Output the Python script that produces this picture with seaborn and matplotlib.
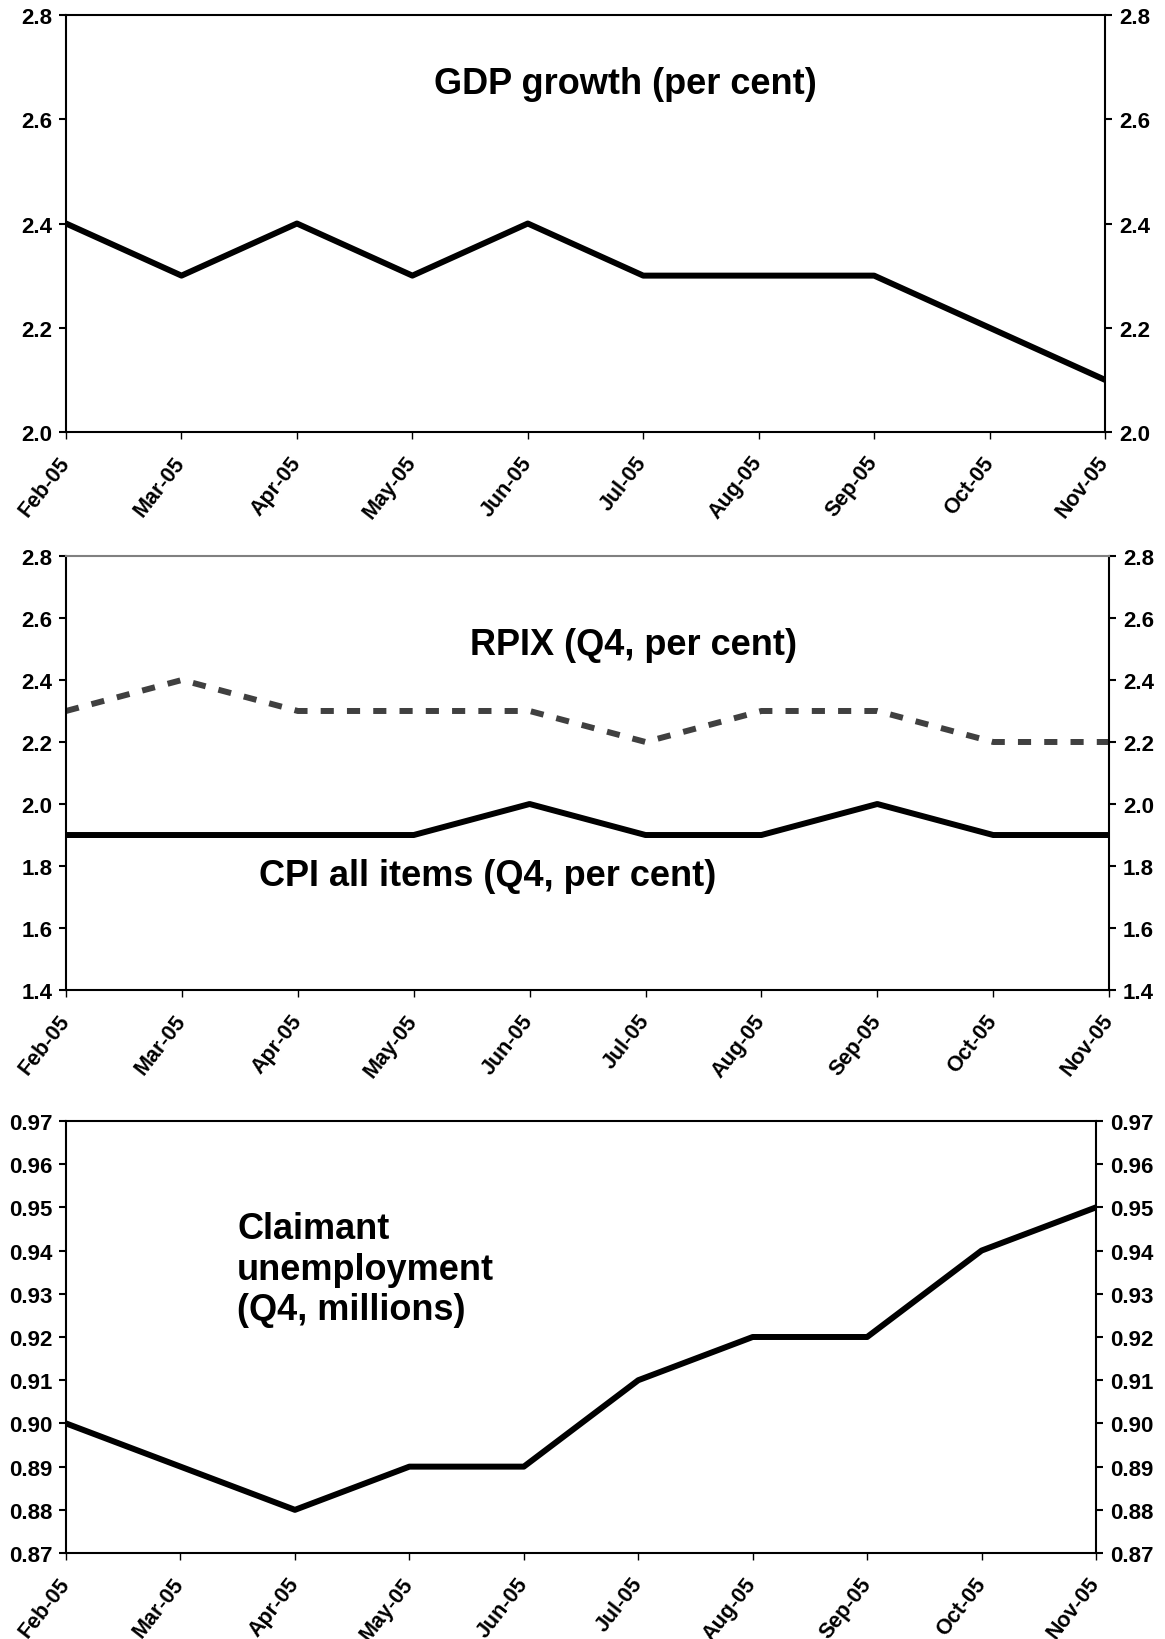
# графики: рост ВВП, инфляция, безработица (прогнозы по месяцам)
import pandas as pd
import numpy as np
import matplotlib.pyplot as plt
import seaborn as sns

# данные
months = ['Feb-05', 'Mar-05', 'Apr-05', 'May-05', 'Jun-05',
          'Jul-05', 'Aug-05', 'Sep-05', 'Oct-05', 'Nov-05']
gdp = [2.4, 2.3, 2.4, 2.3, 2.4, 2.3, 2.3, 2.3, 2.2, 2.1]
rpix = [2.3, 2.4, 2.3, 2.3, 2.3, 2.2, 2.3, 2.3, 2.2, 2.2]
cpi = [1.9, 1.9, 1.9, 1.9, 2.0, 1.9, 1.9, 2.0, 1.9, 1.9]
claimant = [0.90, 0.89, 0.88, 0.89, 0.89, 0.91, 0.92, 0.92, 0.94, 0.95]

df = pd.DataFrame({'month': months, 'gdp': gdp, 'rpix': rpix,
                   'cpi': cpi, 'claimant': claimant})
df['pos'] = np.arange(len(df))

sns.set_style('white')
plt.rcParams['font.family'] = ['Liberation Sans', 'DejaVu Sans']
plt.rcParams['font.weight'] = 'bold'
plt.rcParams['text.color'] = 'black'
plt.rcParams['xtick.color'] = 'black'
plt.rcParams['ytick.color'] = 'black'

fig = plt.figure(figsize=(11.65, 16.4), dpi=100)
ax1 = fig.add_axes([0.0567, 0.736, 0.8918, 0.2542])
ax2 = fig.add_axes([0.0567, 0.3957, 0.8953, 0.2647])
ax3 = fig.add_axes([0.0567, 0.0524, 0.8841, 0.2635])

lw = 4.3

sns.lineplot(data=df, x='pos', y='gdp', ax=ax1, color='black', linewidth=lw)
sns.lineplot(data=df, x='pos', y='rpix', ax=ax2, color='#404040', linewidth=lw,
             dashes=False)
ax2.lines[-1].set_dashes((2.2, 2.2))
sns.lineplot(data=df, x='pos', y='cpi', ax=ax2, color='black', linewidth=lw)
sns.lineplot(data=df, x='pos', y='claimant', ax=ax3, color='black', linewidth=lw)


def style_axis(ax, ylim, step, fmt):
    ax.set_xlim(0, len(months) - 1)
    ax.set_ylim(*ylim)
    ax.set_yticks(np.arange(ylim[0], ylim[1] + step / 2, step))
    ax.yaxis.set_major_formatter(plt.FormatStrFormatter(fmt))
    ax.set_xticks(df['pos'])
    ax.set_xticklabels(months, rotation=52, ha='right', va='center',
                       rotation_mode='anchor')
    ax.set_xlabel('')
    ax.set_ylabel('')
    for s in ax.spines.values():
        s.set_visible(True)
        s.set_linewidth(1.5)
        s.set_color('black')
    ax.tick_params(axis='y', direction='out', length=5, width=1.5,
                   left=True, right=True, labelleft=True, labelright=True,
                   labelsize=16, pad=5)
    ax.tick_params(axis='x', direction='out', length=5, width=1,
                   bottom=True, labelsize=15.5, pad=14)
    for lab in ax.get_xticklabels() + ax.get_yticklabels():
        lab.set_fontweight('bold')


style_axis(ax1, (2.0, 2.8), 0.2, '%.1f')
style_axis(ax2, (1.4, 2.8), 0.2, '%.1f')
style_axis(ax3, (0.87, 0.97), 0.01, '%.2f')
ax2.spines['top'].set_color('#808080')

ax1.text(0.538, 0.837, 'GDP growth (per cent)', transform=ax1.transAxes,
         ha='center', va='center', fontsize=26, fontweight='bold')
ax2.text(0.544, 0.797, 'RPIX (Q4, per cent)', transform=ax2.transAxes,
         ha='center', va='center', fontsize=26, fontweight='bold')
ax2.text(0.404, 0.265, 'CPI all items (Q4, per cent)', transform=ax2.transAxes,
         ha='center', va='center', fontsize=26, fontweight='bold')
ax3.text(0.166, 0.657, 'Claimant\nunemployment\n(Q4, millions)',
         transform=ax3.transAxes, ha='left', va='center', fontsize=26,
         fontweight='bold', linespacing=1.2)

plt.savefig('out.png', dpi=100)
plt.close()
